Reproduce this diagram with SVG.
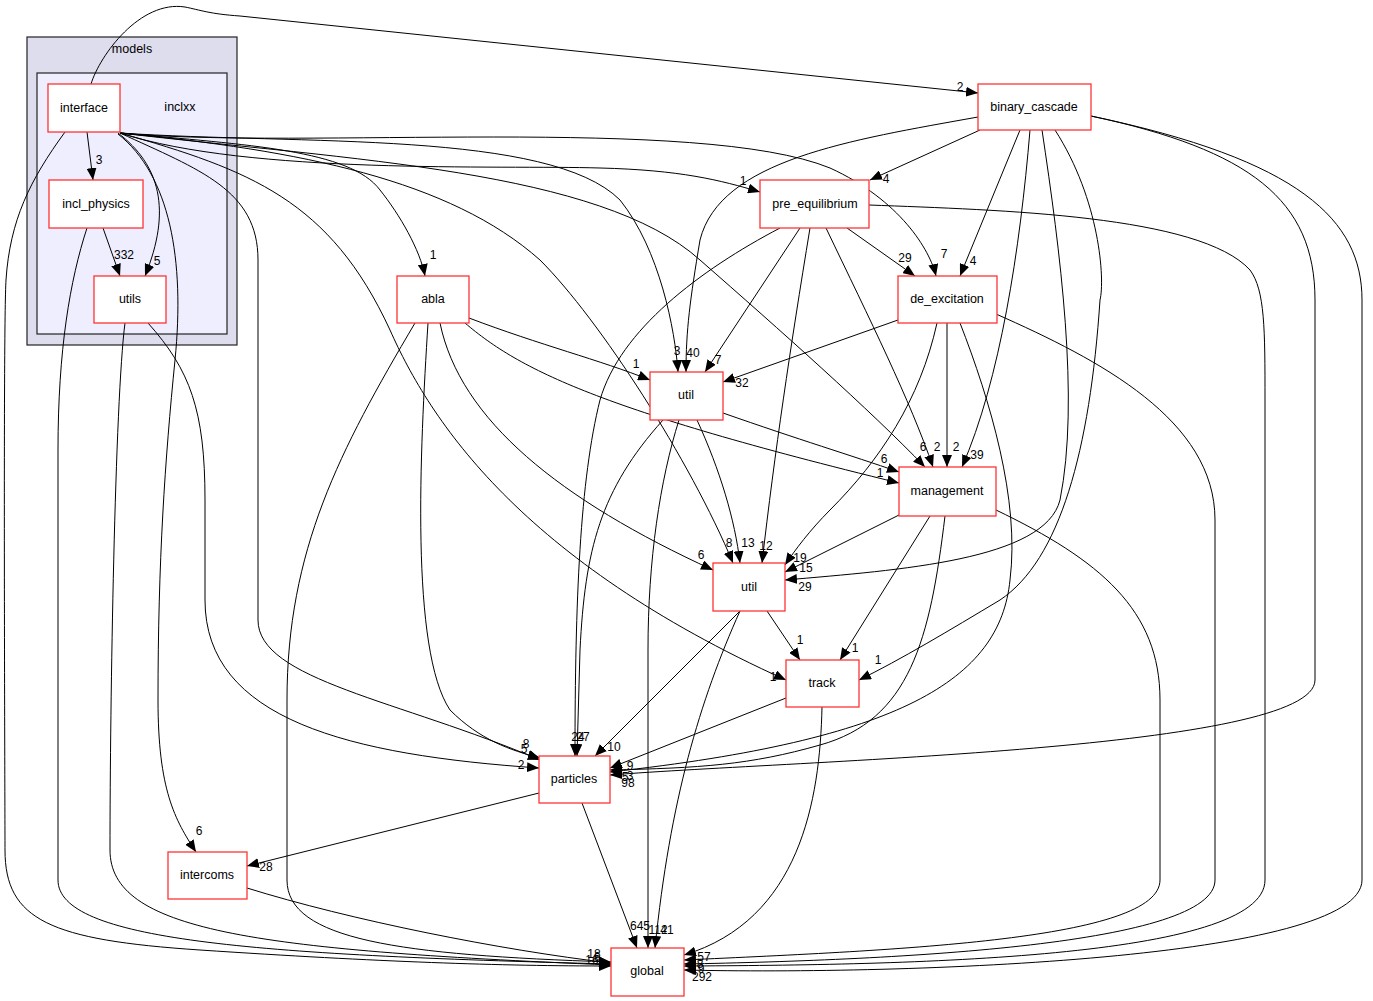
<svg xmlns="http://www.w3.org/2000/svg" width="1373" height="1001" viewBox="0 0 1373 1001">
<defs>
<marker id="ah" markerUnits="userSpaceOnUse" markerWidth="13" markerHeight="10" refX="12" refY="5" orient="auto">
<path d="M0,0 L12,5 L0,10 z" fill="#000"/>
</marker>
<style>
.node rect{fill:#fff;stroke:#ff3333;stroke-width:1.3}
.node text{font-family:"Liberation Sans",Arial,sans-serif;font-size:12.5px;text-anchor:middle;fill:#000}
.cl{stroke:#222;stroke-width:1.2}
.ct{font-family:"Liberation Sans",Arial,sans-serif;font-size:12.5px;text-anchor:middle;fill:#000}
#edges path{fill:none;stroke:#000;stroke-width:1;marker-end:url(#ah)}
#labels text{font-family:"Liberation Sans",Arial,sans-serif;font-size:12px;text-anchor:middle;fill:#000}
</style>
</defs>
<rect width="1373" height="1001" fill="#fff"/>
<g id="cluster_models">
<rect class="cl" x="27" y="37" width="210" height="308" fill="#ddddee"/>
<text class="ct" x="132" y="53">models</text>
</g>
<g id="cluster_inclxx">
<rect class="cl" x="37" y="73" width="190" height="261" fill="#eeeeff"/>
<text class="ct" x="180" y="111">inclxx</text>
</g>
<g id="edges">
<path d="M91,84 C100,55 140,0 185,7 C200,10 210,14 240,16 L978,93"/>
<path d="M87,132 L93,180"/>
<path d="M118,133 C160,165 172,210 145,276"/>
<path d="M65,132 C30,180 10,220 6,280 C3,330 5,800 5,850 C5,920 50,940 200,950 C380,962 500,966 611,966"/>
<path d="M118,134 C170,175 185,260 175,360 C165,460 158,560 158,700 C158,790 175,820 196,852"/>
<path d="M120,133 C200,170 258,190 258,260 L258,620 C258,680 400,700 540,760"/>
<path d="M120,133 C250,170 330,200 390,330 C430,420 520,560 786,680"/>
<path d="M120,133 C250,145 350,150 380,190 C400,215 420,250 425,276"/>
<path d="M120,133 C300,150 450,180 540,260 C600,320 690,460 733,563"/>
<path d="M120,133 C300,145 550,130 620,200 C660,250 675,330 678,372"/>
<path d="M120,133 C250,175 500,165 600,168 C680,170 720,180 760,192"/>
<path d="M120,133 C300,150 700,115 830,168 C900,200 930,250 936,276"/>
<path d="M120,133 C350,160 600,170 700,260 C780,330 870,410 925,467"/>
<path d="M469,318 C540,345 600,360 650,380"/>
<path d="M465,323 C520,370 600,410 899,483"/>
<path d="M440,323 C460,420 560,500 713,570"/>
<path d="M428,323 C420,450 410,650 450,710 C480,740 510,750 540,758"/>
<path d="M415,323 C340,450 287,550 287,700 L287,880 C287,940 400,955 611,962"/>
<path d="M148,323 C190,370 205,410 205,500 L205,600 C205,720 350,755 539,768"/>
<path d="M125,323 C115,400 110,700 110,850 C110,930 250,950 611,965"/>
<path d="M103,228 L120,276"/>
<path d="M87,228 C70,280 58,350 58,450 L58,880 C58,940 250,955 611,964"/>
<path d="M247,888 C350,920 500,950 611,963"/>
<path d="M539,793 L247,866"/>
<path d="M582,803 L637,948"/>
<path d="M723,413 C800,440 850,455 899,472"/>
<path d="M697,420 C720,470 735,520 740,563"/>
<path d="M663,420 C600,490 585,550 580,650 L577,756"/>
<path d="M679,420 C660,480 648,560 648,650 L648,948"/>
<path d="M780,228 C700,270 620,330 600,400 C580,480 575,600 575,756"/>
<path d="M800,228 L705,372"/>
<path d="M810,228 C790,350 775,450 762,563"/>
<path d="M826,228 C870,320 910,400 933,467"/>
<path d="M847,228 L915,276"/>
<path d="M869,205 C1000,210 1200,215 1250,270 C1265,290 1265,330 1265,400 L1265,880 C1265,960 900,965 684,966"/>
<path d="M898,320 L723,382"/>
<path d="M937,323 C920,400 880,460 830,510 C810,530 795,550 785,565"/>
<path d="M947,323 L947,467"/>
<path d="M960,323 C990,400 1020,500 1010,580 C1000,680 900,740 610,772"/>
<path d="M996,314 C1100,360 1215,420 1215,520 L1215,880 C1215,945 900,960 684,964"/>
<path d="M980,130 L870,180"/>
<path d="M1020,130 L960,276"/>
<path d="M978,117 C850,140 720,160 700,240 C690,300 686,330 686,372"/>
<path d="M1030,130 C1020,250 1000,380 962,467"/>
<path d="M1042,130 C1060,250 1080,400 1060,500 C1045,560 900,570 785,580"/>
<path d="M1055,130 C1100,200 1105,280 1100,300 C1090,450 1060,560 1000,600 C950,630 900,660 859,680"/>
<path d="M1091,116 C1250,150 1315,200 1315,300 L1315,680 C1315,750 800,760 610,775"/>
<path d="M1091,116 C1300,160 1362,220 1362,300 L1362,880 C1362,960 900,975 684,970"/>
<path d="M899,515 L785,572"/>
<path d="M930,516 L840,660"/>
<path d="M945,516 C930,640 910,720 820,745 C750,765 700,768 610,770"/>
<path d="M996,510 C1100,560 1160,610 1160,700 L1160,880 C1160,940 900,950 684,960"/>
<path d="M767,611 L800,660"/>
<path d="M740,611 L595,756"/>
<path d="M740,611 C700,700 670,800 655,948"/>
<path d="M786,698 L610,768"/>
<path d="M822,707 C820,800 800,920 684,955"/>
</g>
<g id="labels">
<text x="960" y="91">2</text>
<text x="99" y="164">3</text>
<text x="157" y="265">5</text>
<text x="124" y="259">332</text>
<text x="433" y="259">1</text>
<text x="743" y="185">1</text>
<text x="944" y="258">7</text>
<text x="886" y="183">4</text>
<text x="973" y="265">4</text>
<text x="905" y="262">29</text>
<text x="636" y="368">1</text>
<text x="677" y="355">3</text>
<text x="693" y="357">40</text>
<text x="718" y="364">7</text>
<text x="742" y="387">32</text>
<text x="923" y="451">6</text>
<text x="937" y="451">2</text>
<text x="956" y="451">2</text>
<text x="977" y="459">39</text>
<text x="884" y="463">6</text>
<text x="880" y="477">1</text>
<text x="701" y="559">6</text>
<text x="729" y="547">8</text>
<text x="748" y="547">13</text>
<text x="766" y="550">12</text>
<text x="800" y="562">19</text>
<text x="806" y="572">15</text>
<text x="805" y="591">29</text>
<text x="773" y="681">1</text>
<text x="800" y="644">1</text>
<text x="855" y="652">1</text>
<text x="878" y="664">1</text>
<text x="526" y="748">8</text>
<text x="524" y="753">5</text>
<text x="521" y="769">2</text>
<text x="578" y="741">24</text>
<text x="583" y="741">27</text>
<text x="614" y="751">10</text>
<text x="630" y="770">9</text>
<text x="625" y="781">5</text>
<text x="630" y="780">3</text>
<text x="628" y="787">98</text>
<text x="199" y="835">6</text>
<text x="266" y="871">28</text>
<text x="640" y="930">645</text>
<text x="658" y="934">112</text>
<text x="667" y="934">41</text>
<text x="594" y="958">18</text>
<text x="592" y="964">16</text>
<text x="597" y="961">6</text>
<text x="704" y="961">57</text>
<text x="700" y="968">8</text>
<text x="701" y="973">9</text>
<text x="702" y="981">292</text>
</g>
<g id="interface" class="node"><rect x="48" y="84" width="72" height="48"/><text x="84" y="112">interface</text></g>
<g id="incl_physics" class="node"><rect x="49" y="180" width="94" height="48"/><text x="96" y="208">incl_physics</text></g>
<g id="utils" class="node"><rect x="94" y="276" width="72" height="47"/><text x="130" y="303">utils</text></g>
<g id="binary_cascade" class="node"><rect x="978" y="84" width="113" height="46"/><text x="1034" y="111">binary_cascade</text></g>
<g id="pre_equilibrium" class="node"><rect x="760" y="180" width="109" height="48"/><text x="815" y="208">pre_equilibrium</text></g>
<g id="de_excitation" class="node"><rect x="898" y="276" width="99" height="47"/><text x="947" y="303">de_excitation</text></g>
<g id="abla" class="node"><rect x="397" y="276" width="72" height="47"/><text x="433" y="303">abla</text></g>
<g id="util_upper" class="node"><rect x="650" y="372" width="73" height="48"/><text x="686" y="399">util</text></g>
<g id="management" class="node"><rect x="899" y="467" width="97" height="49"/><text x="947" y="495">management</text></g>
<g id="util_lower" class="node"><rect x="713" y="563" width="72" height="48"/><text x="749" y="591">util</text></g>
<g id="track" class="node"><rect x="786" y="660" width="73" height="47"/><text x="822" y="687">track</text></g>
<g id="particles" class="node"><rect x="539" y="756" width="71" height="47"/><text x="574" y="783">particles</text></g>
<g id="intercoms" class="node"><rect x="168" y="852" width="79" height="47"/><text x="207" y="879">intercoms</text></g>
<g id="global" class="node"><rect x="611" y="948" width="73" height="48"/><text x="647" y="975">global</text></g>
</svg>
